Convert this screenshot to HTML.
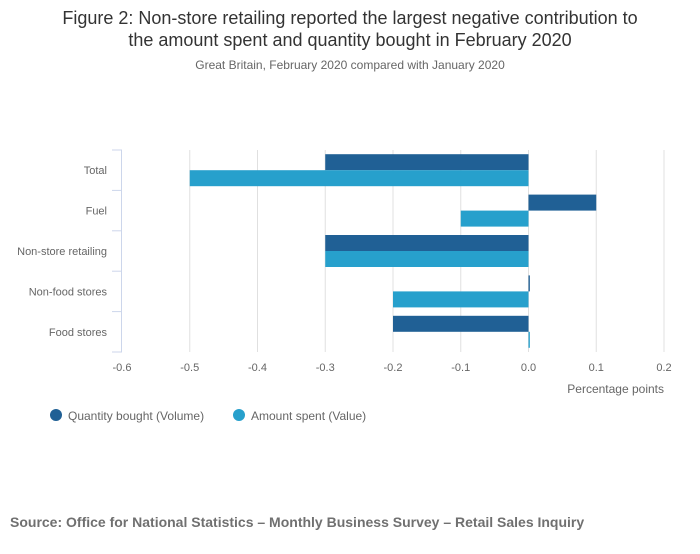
<!DOCTYPE html>
<html><head><meta charset="utf-8"><style>
body{margin:0;background:#fff;font-family:"Liberation Sans",sans-serif;}
svg text{font-family:"Liberation Sans",sans-serif;}
</style></head><body>
<svg id="chart" width="700" height="549" xmlns="http://www.w3.org/2000/svg">
<text x="350" y="24" text-anchor="middle" font-size="18" fill="#333">Figure 2: Non-store retailing reported the largest negative contribution to</text>
<text x="350" y="46" text-anchor="middle" font-size="18" fill="#333">the amount spent and quantity bought in February 2020</text>
<text x="350" y="69" text-anchor="middle" font-size="12" fill="#666">Great Britain, February 2020 compared with January 2020</text>
<g id="grid"></g><g id="bars"></g><g id="axes"></g>
<text x="664" y="393" text-anchor="end" font-size="12" fill="#666">Percentage points</text>
<g><circle cx="56" cy="415" r="6" fill="#206095"/><text x="68" y="420" font-size="12" fill="#666">Quantity bought (Volume)</text></g>
<g><circle cx="239" cy="415" r="6" fill="#27a0cc"/><text x="251" y="420" font-size="12" fill="#666">Amount spent (Value)</text></g>
<text x="10" y="527" font-size="14" font-weight="bold" fill="#707070">Source: Office for National Statistics – Monthly Business Survey – Retail Sales Inquiry</text>
</svg>
<script>
const categories=["Total","Fuel","Non-store retailing","Non-food stores","Food stores"];
const volume=[-0.3,0.1,-0.3,0.002,-0.2];
const value=[-0.5,-0.1,-0.3,-0.2,0.002];
const ticks=[-0.6,-0.5,-0.4,-0.3,-0.2,-0.1,0.0,0.1,0.2];
const tickLabels=["-0.6","-0.5","-0.4","-0.3","-0.2","-0.1","0.0","0.1","0.2"];
const NS="http://www.w3.org/2000/svg";
const x0=122,x1=664,yTop=150,yBot=352;
const xs=v=>x0+(v+0.6)/0.8*(x1-x0);
const band=(yBot-yTop)/categories.length;
function mk(t,a,p){const e=document.createElementNS(NS,t);for(const k in a)e.setAttribute(k,a[k]);p.appendChild(e);return e;}
const grid=document.getElementById('grid'),bars=document.getElementById('bars'),axes=document.getElementById('axes');
ticks.forEach((t,i)=>{
 if(i>0){const g=mk('line',{x1:xs(t),x2:xs(t),y1:yTop,y2:yBot,stroke:'#e0e0e0'},grid);
 
 }
 const l=mk('text',{x:xs(t),y:371,'text-anchor':'middle','font-size':11,fill:'#666'},axes);l.textContent=tickLabels[i];
 
 
});
const ax=mk('line',{x1:x0-0.5,x2:x0-0.5,y1:yTop,y2:yBot,stroke:'#ccd6eb'},axes);


for(let i=0;i<=categories.length;i++){const y=yTop+i*band;mk('line',{x1:x0-10,x2:x0,y1:y,y2:y,stroke:'#ccd6eb'},axes);}
categories.forEach((c,i)=>{
 const cy=yTop+band*(i+0.5);
 const t=mk('text',{x:107,y:cy+4,'text-anchor':'end','font-size':11,fill:'#666'},axes);t.textContent=c;
 
 
 [[volume[i],'#206095',cy-16],[value[i],'#27a0cc',cy]].forEach(([v,col,y])=>{
  const a=xs(Math.min(0,v)),b=xs(Math.max(0,v));
  const r=mk('rect',{x:a,y:y,width:Math.max(1,b-a),height:16,fill:col},bars);
  
  
 });
});
</script>
</body></html>
